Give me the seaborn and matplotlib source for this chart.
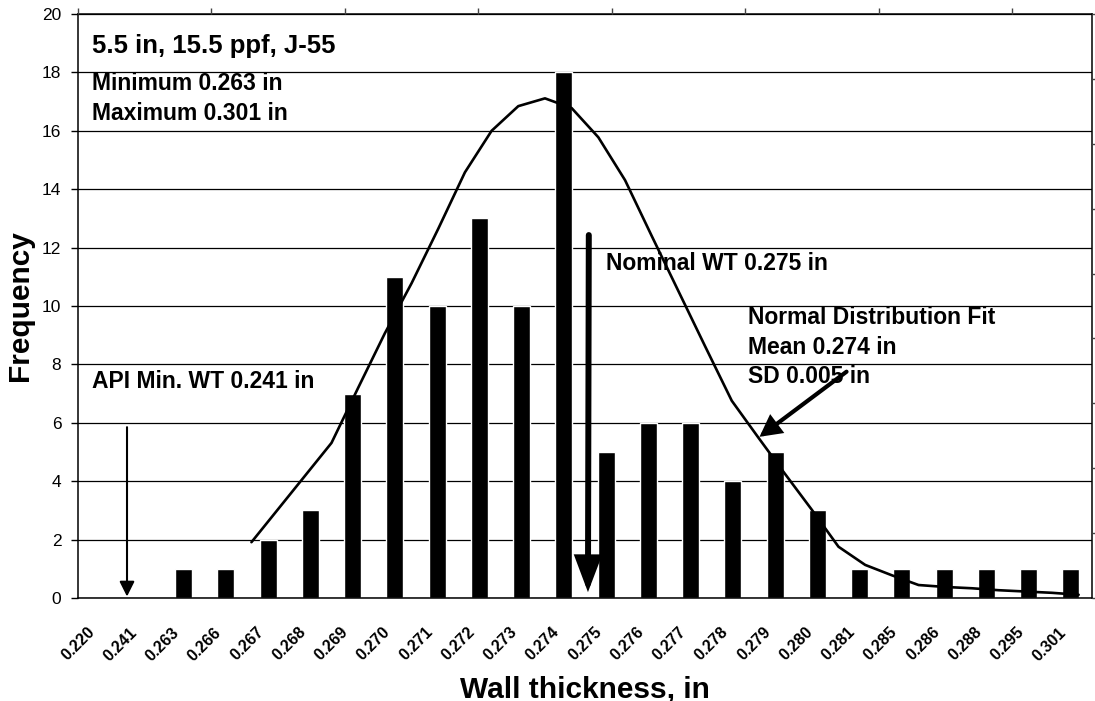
import matplotlib
matplotlib.use("Agg")
import matplotlib.pyplot as plt
import matplotlib.transforms as mtransforms
import seaborn as sns

# wall thickness categories (in) and measured frequency
thickness = ["0.220", "0.241", "0.263", "0.266", "0.267", "0.268", "0.269", "0.270",
             "0.271", "0.272", "0.273", "0.274", "0.275", "0.276", "0.277", "0.278",
             "0.279", "0.280", "0.281", "0.285", "0.286", "0.288", "0.295", "0.301"]
frequency = [0, 0, 1, 1, 2, 3, 7, 11, 10, 13, 10, 18, 5, 6, 6, 4, 5, 3, 1, 1, 1, 1, 1, 1]

# normal distribution fit, drawn on the secondary axes (index / secondary value)
fit_index = list(range(6, 38))
fit_values = [0.86, 1.37, 1.88, 2.39, 3.24, 4.08, 4.85, 5.69, 6.56, 7.20, 7.58, 7.70,
              7.55, 7.10, 6.44, 5.58, 4.73, 3.88, 3.04, 2.47, 1.91, 1.36, 0.79, 0.51,
              0.35, 0.20, 0.17, 0.15, 0.12, 0.10, 0.08, 0.05]

sns.set_theme(style="white")
plt.rcParams['font.family'] = ['Liberation Sans', 'DejaVu Sans']
plt.rcParams.update({"text.color": "black", "axes.labelcolor": "black",
                     "xtick.color": "black", "ytick.color": "black"})

W, H = 1095, 701
fig = plt.figure(figsize=(W / 100, H / 100), dpi=100)
pos = [78 / W, 1 - 598 / H, (1092 - 78) / W, (598 - 14) / H]
ax = fig.add_axes(pos)

sns.barplot(x=thickness, y=frequency, color="black", saturation=1, width=0.4, ax=ax)
ax.set_xlim(-0.5, len(thickness) - 0.5)
ax.set_ylim(0, 20)
ax.set_yticks(range(0, 21, 2))
ax.yaxis.grid(True, color="black", lw=0.9)
ax.set_axisbelow(True)
for s in ax.spines.values():
    s.set_color("black")
    s.set_linewidth(1.1)

# labels centered on categories, tick marks between categories
ax.set_xticks(range(len(thickness)))
ax.set_xticklabels(thickness, rotation=45, ha="right", va="center",
                   rotation_mode="anchor", fontweight="bold", fontsize=11.5)
ax.set_xticks([i - 0.5 for i in range(len(thickness) + 1)], minor=True)
ax.tick_params(axis="x", which="major", length=0, pad=23)
ax.tick_params(axis="x", which="minor", length=5, width=1, color="black", direction="out")
ax.tick_params(axis="y", length=5, width=1, color="black", direction="out",
               pad=7, labelsize=12.5, left=True)
shift = mtransforms.ScaledTranslation(-7 / 100, 0, fig.dpi_scale_trans)
for lab in ax.get_xticklabels():
    lab.set_transform(lab.get_transform() + shift)

ax.set_xlabel("Wall thickness, in", fontsize=21.5, fontweight="bold")
ax.xaxis.set_label_coords(0.5, -(697 - 598) / 584)
ax.xaxis.label.set_va("baseline")
ax.set_ylabel("Frequency", fontsize=21.5, fontweight="bold")
ax.yaxis.set_label_coords((20 - 78) / 1014, 0.5)
ax.yaxis.label.set_va("center")

# secondary axes for the fitted curve
ax2 = fig.add_axes(pos, facecolor="none")
sns.lineplot(x=fit_index, y=fit_values, color="black", lw=1.9, ax=ax2)
ax2.set_xlim(-0.5, 37.5)
ax2.set_ylim(0, 9)
ax2.xaxis.tick_top()
ax2.yaxis.tick_right()
ax2.set_xticks([-0.5 + 5 * k for k in range(8)])
ax2.set_yticks(range(10))
ax2.set_xticklabels([])
ax2.set_yticklabels([])
ax2.tick_params(length=4, width=1, color="#444444", direction="out", top=True, right=True)
ax2.set_xlabel("")
ax2.set_ylabel("")
for s in ax2.spines.values():
    s.set_visible(False)

# annotations
bold = dict(fontsize=16.5, fontweight="bold", color="black")
ax.text(-0.17, 18.66, "5.5 in, 15.5 ppf, J-55", fontsize=18.5, fontweight="bold")
ax.text(-0.18, 17.39, "Minimum 0.263 in", **bold)
ax.text(-0.18, 16.38, "Maximum 0.301 in", **bold)
ax.text(-0.17, 7.20, "API Min. WT 0.241 in", **bold)
ax.text(12.0, 11.25, "Nominal WT 0.275 in", **bold)
ax.text(15.35, 9.40, "Normal Distribution Fit", **bold)
ax.text(15.35, 8.37, "Mean 0.274 in", **bold)
ax.text(15.35, 7.38, "SD 0.005 in", **bold)

ax.annotate("", xy=(0.66, 0.05), xytext=(0.66, 5.85),
            arrowprops=dict(arrowstyle="-|>,head_length=0.9,head_width=0.45",
                            mutation_scale=10, color="black", lw=1.5,
                            shrinkA=0, shrinkB=0))
ax.annotate("", xy=(11.57, 0.2), xytext=(11.59, 12.43),
            arrowprops=dict(arrowstyle="-|>,head_length=0.95,head_width=0.36",
                            mutation_scale=20, color="black", lw=4.3,
                            shrinkA=0, shrinkB=0, joinstyle="miter"))
ax.annotate("", xy=(15.63, 5.52), xytext=(17.69, 7.75),
            arrowprops=dict(arrowstyle="-|>,head_length=0.75,head_width=0.4",
                            mutation_scale=15, color="black", lw=3,
                            shrinkA=0, shrinkB=0, joinstyle="miter"))

fig.savefig("out.png", dpi=100)
